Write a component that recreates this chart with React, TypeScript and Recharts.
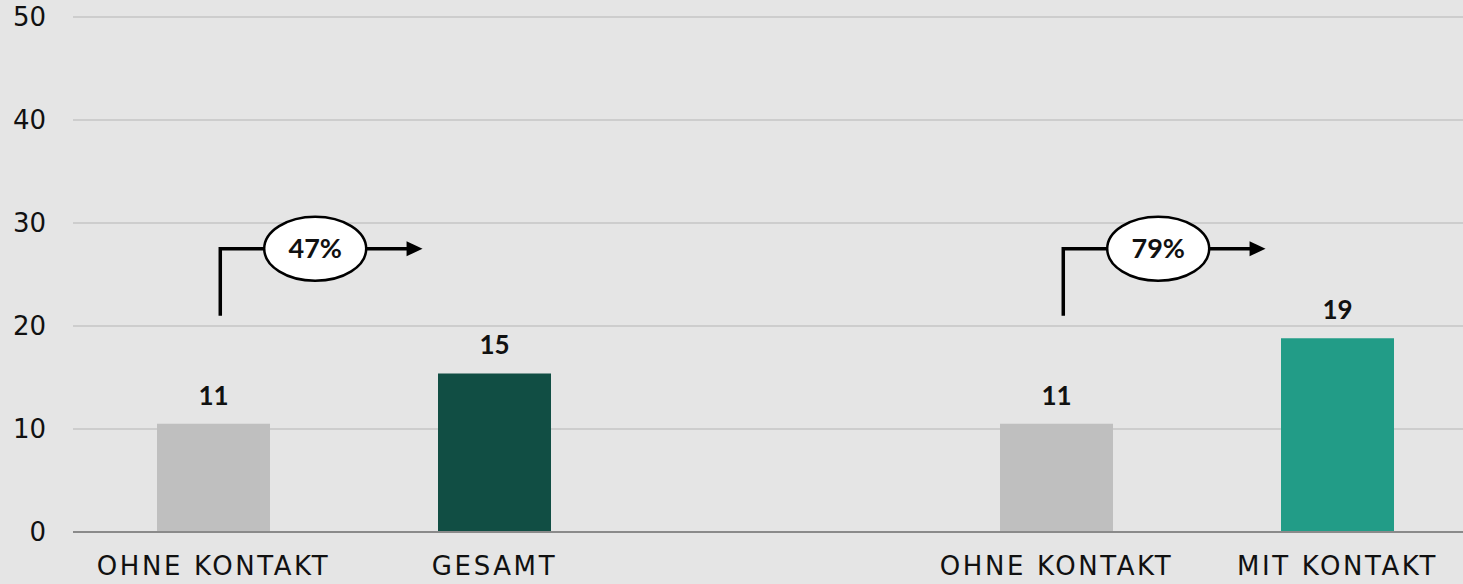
import { BarChart, Bar, XAxis, YAxis, CartesianGrid, Cell, LabelList } from "recharts";

// categories, the blank one is the gap between the two groups
const categories = ["OHNE KONTAKT", "GESAMT", "", "OHNE KONTAKT", "MIT KONTAKT"];
const values = [10.5, 15.4, 0, 10.5, 18.8];
const valueLabels = ["11", "15", "", "11", "19"];
// change from a bar to the next one
const changeLabels = ["47%", "", "", "79%", ""];
const yTicks = [0, 10, 20, 30, 40, 50];

const barColors = ["#bfbfbf", "#114e44", "#bfbfbf", "#bfbfbf", "#229c87"];

const data = categories.map((name, i) => ({
    name,
    value: values[i],
    label: valueLabels[i],
    change: changeLabels[i],
}));

const ValueLabel = (props: any) => {
    const { x, y, width, value } = props;
    if (!value) return null;
    return (
        <text
            x={x + width / 2}
            y={y - 19}
            textAnchor="middle"
            fill="#111"
            style={{ fontFamily: "Lato", fontWeight: 700, fontSize: 26 }}
        >
            {value}
        </text>
    );
};

const ChangeArrow = (props: any) => {
    const { x, y, width, height, value } = props;
    if (!value) return null;
    // index from LabelList skips empty bars, look it up by label instead
    const v = values[changeLabels.indexOf(value)];
    if (!v) return null;
    const bottom = y + height;
    const k = height / v;
    const py = (val: number) => bottom - val * k;
    const x0 = x + width * 0.56;
    const yTop = py(27.5);
    const yBase = py(21);
    const xEnd = x + width * 2.35;
    const cx = x + width * 1.4;
    return (
        <g>
            <polyline
                points={`${x0},${yBase} ${x0},${yTop} ${xEnd - 15},${yTop}`}
                fill="none"
                stroke="#000"
                strokeWidth={3.5}
            />
            <polygon
                points={`${xEnd - 16},${yTop - 7.5} ${xEnd},${yTop} ${xEnd - 16},${yTop + 7.5}`}
                fill="#000"
            />
            <ellipse cx={cx} cy={yTop} rx={51} ry={32} fill="#fff" stroke="#000" strokeWidth={2.5} />
            <text
                x={cx}
                y={yTop}
                dy="0.36em"
                textAnchor="middle"
                fill="#111"
                style={{ fontFamily: "Lato", fontWeight: 700, fontSize: 27 }}
            >
                {value}
            </text>
        </g>
    );
};

const App = () => {
    return (
        <div
            style={{
                position: "fixed",
                left: 0,
                top: 0,
                width: 1463,
                height: 584,
                overflow: "hidden",
                background: "#e5e5e5",
            }}
        >
            <BarChart
                width={1478}
                height={584}
                data={data}
                margin={{ top: 17, right: 0, bottom: 0, left: 0 }}
            >
                <CartesianGrid vertical={false} stroke="#c4c4c4" strokeWidth={1.5} />
                <XAxis
                    dataKey="name"
                    height={52}
                    tickLine={false}
                    tickSize={0}
                    tickMargin={25}
                    axisLine={{ stroke: "#8a8a8a", strokeWidth: 2 }}
                    interval={0}
                    tick={{ fill: "#111", fontFamily: "DejaVu Sans", fontSize: 26, letterSpacing: 2.6 }}
                />
                <YAxis
                    width={73}
                    domain={[0, 50]}
                    ticks={yTicks}
                    axisLine={false}
                    tickLine={false}
                    tickSize={0}
                    tickMargin={27}
                    tick={{ fill: "#111", fontFamily: "DejaVu Sans", fontSize: 26 }}
                />
                <Bar dataKey="value" barSize={113} isAnimationActive={false}>
                    {data.map((entry, i) => (
                        <Cell key={`cell-${i}`} fill={barColors[i]} />
                    ))}
                    <LabelList dataKey="label" content={<ValueLabel />} />
                    <LabelList dataKey="change" content={<ChangeArrow />} />
                </Bar>
            </BarChart>
        </div>
    );
};

export default App;
